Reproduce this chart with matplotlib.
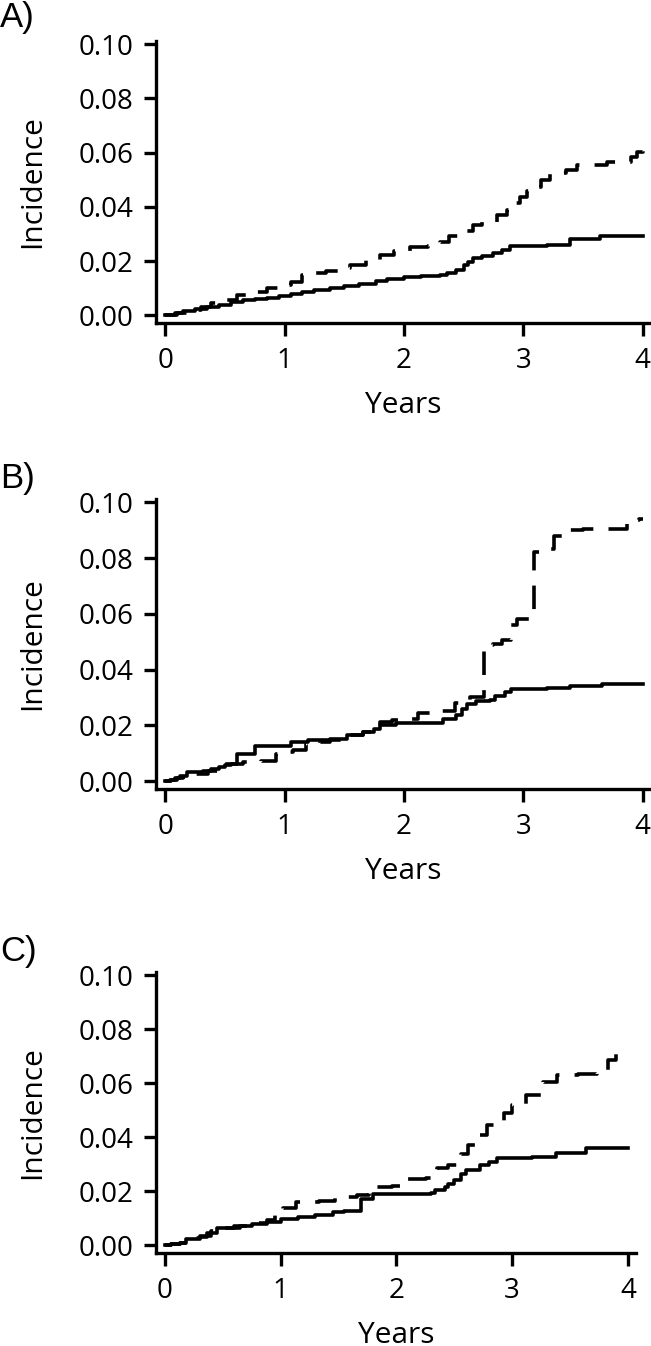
import numpy as np
import matplotlib
matplotlib.use('Agg')
import matplotlib.pyplot as plt

plt.rcParams['font.family'] = ['Open Sans', 'DejaVu Sans']

# panel A
a_solid_t = [0, 0.08, 0.15, 0.25, 0.35, 0.45, 0.55, 0.65, 0.75, 0.85, 0.95, 1.05, 1.15, 1.25, 1.38, 1.5, 1.62,
             1.77, 1.86, 2.0, 2.14, 2.3, 2.36, 2.44, 2.5, 2.54, 2.58, 2.65, 2.75, 2.82, 2.89, 3.2, 3.39, 3.64, 4.0]
a_solid_v = [0, 0.001, 0.0018, 0.0025, 0.0032, 0.004, 0.0048, 0.0055, 0.006, 0.0066, 0.0072, 0.0078, 0.0085,
             0.0092, 0.0102, 0.0108, 0.0114, 0.0126, 0.0136, 0.0142, 0.0147, 0.0148, 0.0155, 0.0169, 0.0185,
             0.0198, 0.0212, 0.022, 0.023, 0.0242, 0.0255, 0.0259, 0.0282, 0.0292, 0.0292]
a_dash_t = [0, 0.1, 0.2, 0.3, 0.38, 0.5, 0.6, 0.72, 0.85, 0.95, 1.05, 1.15, 1.25, 1.35, 1.45, 1.55, 1.68, 1.8,
            1.92, 2.05, 2.2, 2.3, 2.38, 2.48, 2.58, 2.65, 2.78, 2.86, 2.9, 2.97, 3.03, 3.08, 3.15, 3.22, 3.36,
            3.45, 3.7, 3.9, 3.95, 4.0]
a_dash_v = [0, 0.001, 0.002, 0.003, 0.0045, 0.0055, 0.0075, 0.0085, 0.0102, 0.0112, 0.0125, 0.0148, 0.0155,
            0.0162, 0.0175, 0.0187, 0.0205, 0.0224, 0.0238, 0.0251, 0.0255, 0.027, 0.0292, 0.031, 0.0335,
            0.0345, 0.037, 0.039, 0.0414, 0.0435, 0.0457, 0.0475, 0.05, 0.0527, 0.0537, 0.0555, 0.0567,
            0.0585, 0.0604, 0.0617]

# panel B
b_solid_t = [0, 0.04, 0.08, 0.12, 0.18, 0.32, 0.38, 0.45, 0.5, 0.55, 0.6, 0.75, 1.05, 1.2, 1.38, 1.52, 1.66,
             1.75, 1.8, 1.93, 2.33, 2.44, 2.49, 2.53, 2.6, 2.72, 2.76, 2.85, 2.9, 3.2, 3.39, 3.66, 4.0]
b_solid_v = [0, 0.0006, 0.0012, 0.002, 0.0032, 0.0038, 0.0045, 0.0052, 0.0058, 0.0062, 0.0098, 0.0128,
             0.014, 0.0146, 0.0152, 0.0165, 0.0175, 0.0188, 0.02, 0.0208, 0.0224, 0.0236, 0.026, 0.0278,
             0.0286, 0.0292, 0.0307, 0.0319, 0.0331, 0.0335, 0.0341, 0.0349, 0.0349]
b_dash_t = [0, 0.05, 0.1, 0.15, 0.25, 0.36, 0.45, 0.5, 0.65, 0.8, 0.93, 1.0, 1.07, 1.18, 1.3, 1.38, 1.5, 1.66,
            1.8, 1.9, 2.0, 2.12, 2.3, 2.43, 2.55, 2.67, 2.75, 2.82, 2.9, 2.95, 3.09, 3.19, 3.26, 3.33, 3.5,
            3.74, 3.87, 3.97, 4.0]
b_dash_v = [0, 0.0005, 0.001, 0.0015, 0.0025, 0.0038, 0.0045, 0.0062, 0.0068, 0.0072, 0.0098, 0.0104,
            0.0112, 0.0135, 0.014, 0.0148, 0.0165, 0.0178, 0.0212, 0.0218, 0.0222, 0.0244, 0.0252, 0.0282,
            0.0301, 0.0487, 0.0493, 0.0505, 0.0559, 0.0583, 0.0822, 0.0832, 0.0878, 0.09, 0.0906, 0.0906,
            0.0935, 0.094, 0.094]

# panel C
c_solid_t = [0, 0.05, 0.13, 0.18, 0.3, 0.36, 0.45, 0.6, 0.75, 0.88, 1.0, 1.15, 1.3, 1.45, 1.55, 1.69, 1.8,
             2.3, 2.33, 2.42, 2.45, 2.5, 2.56, 2.6, 2.72, 2.8, 2.87, 3.17, 3.38, 3.64, 4.0]
c_solid_v = [0, 0.0004, 0.0008, 0.0025, 0.0031, 0.0045, 0.0063, 0.0072, 0.008, 0.0088, 0.0098, 0.0105,
             0.0112, 0.0122, 0.0128, 0.0173, 0.0189, 0.0194, 0.0205, 0.0215, 0.0228, 0.0241, 0.0265, 0.028,
             0.0296, 0.031, 0.0323, 0.0327, 0.0342, 0.0362, 0.0362]
c_dash_t = [0, 0.05, 0.13, 0.2, 0.3, 0.4, 0.5, 0.65, 0.8, 0.88, 0.95, 1.02, 1.13, 1.33, 1.47, 1.66, 1.76,
            1.96, 2.06, 2.26, 2.35, 2.45, 2.56, 2.62, 2.72, 2.78, 2.93, 3.0, 3.12, 3.27, 3.39, 3.57, 3.73,
            3.83, 3.9, 3.96]
c_dash_v = [0, 0.0004, 0.001, 0.0028, 0.0035, 0.0055, 0.0065, 0.0072, 0.0082, 0.0095, 0.0118, 0.0137,
            0.016, 0.0165, 0.0181, 0.0185, 0.0216, 0.022, 0.0247, 0.025, 0.0287, 0.0296, 0.034, 0.037,
            0.041, 0.0444, 0.049, 0.052, 0.0555, 0.0605, 0.063, 0.0633, 0.0642, 0.0685, 0.0734, 0.0734]

panel_labels = ['A)', 'B)', 'C)']
yticks = [0.0, 0.02, 0.04, 0.06, 0.08, 0.10]
xticks = [0, 1, 2, 3, 4]

W, H = 651, 1346
fig = plt.figure(figsize=(W / 100, H / 100), dpi=100)

# axes boxes in pixels: left, right, top, bottom
boxes = [(156, 651, 41, 323), (156, 651, 499, 789), (156, 636, 972, 1253)]
label_y = [18, 478, 952]
data = [(a_solid_t, a_solid_v, a_dash_t, a_dash_v),
        (b_solid_t, b_solid_v, b_dash_t, b_dash_v),
        (c_solid_t, c_solid_v, c_dash_t, c_dash_v)]

for i in range(3):
    l, r, t, b = boxes[i]
    ax = fig.add_axes([l / W, 1 - b / H, (r - l) / W, (b - t) / H])
    st, sv, dt, dv = data[i]
    ax.step(st, sv, where='post', color='black', lw=2.6)
    ax.step(dt, dv, where='post', color='black', lw=2.6, linestyle=(0, (6.5, 4.2)))
    ax.set_xlim(-0.077, 4.07)
    ax.set_ylim(-0.0028, 0.1012)
    ax.set_xticks(xticks)
    ax.set_xticklabels([str(x) for x in xticks])
    ax.set_yticks(yticks)
    ax.set_yticklabels(['%.2f' % y for y in yticks])
    for s in ['top', 'right']:
        ax.spines[s].set_visible(False)
    for s in ['left', 'bottom']:
        ax.spines[s].set_linewidth(2.4)
    ax.tick_params(width=2.4, length=9, labelsize=20, colors='black')
    ax.tick_params(axis='y', pad=7)
    ax.tick_params(axis='x', pad=8)
    ax.set_ylabel('Incidence', fontsize=21.5)
    ax.yaxis.set_label_coords((47 - l) / (r - l), 0.5)
    ax.set_xlabel('Years', fontsize=21.5, labelpad=12)
    fig.text(0, 1 - label_y[i] / H, panel_labels[i], fontsize=25, va='center', ha='left',
             family=['Liberation Sans', 'DejaVu Sans'])

fig.savefig('out.png', dpi=100)
